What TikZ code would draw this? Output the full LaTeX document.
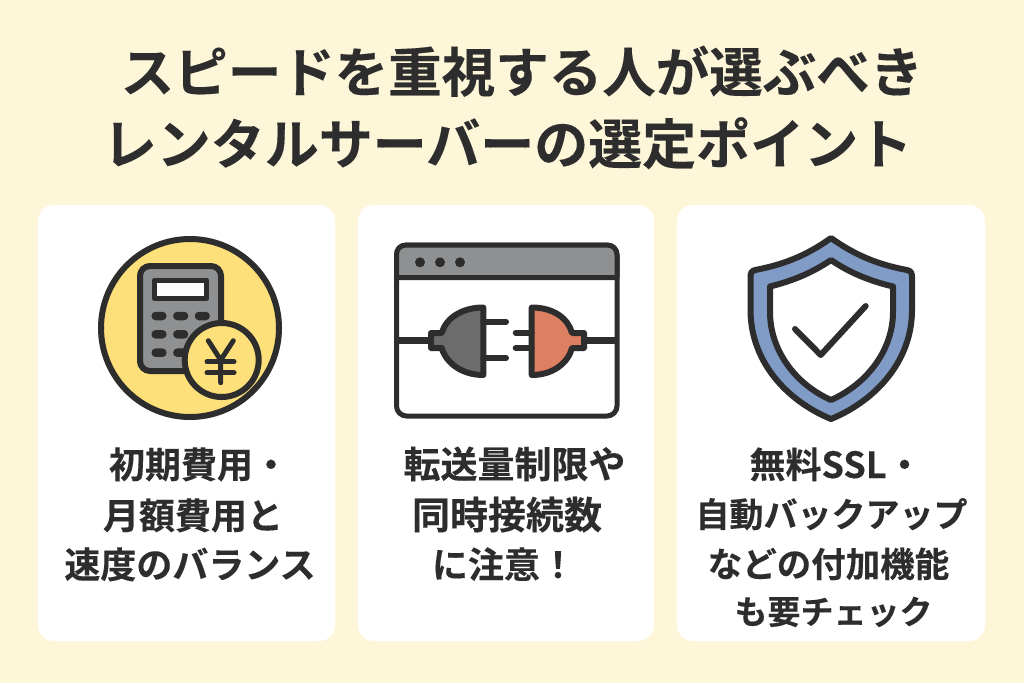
\documentclass[tikz,border=0pt]{standalone}
\usepackage{fontspec}
\setmainfont{Noto Sans CJK JP}[BoldFont={Noto Sans CJK JP Bold},BoldFeatures={FakeBold=0.25}]
\usetikzlibrary{positioning}
\definecolor{cream}{HTML}{FEF6D9}
\definecolor{ink}{HTML}{2D2D2D}
\definecolor{calcgray}{HTML}{8E9091}
\definecolor{plugdark}{HTML}{6C6C6C}
\definecolor{plugred}{HTML}{DD7F62}
\definecolor{coinyellow}{HTML}{FDE07A}
\definecolor{shieldblue}{HTML}{7F9BC6}
\tikzset{
	titletext/.style={text=ink,font=\fontsize{#1}{60}\selectfont\bfseries,inner sep=0pt,anchor=base},
	titletext/.default=53.5,
	cardbox/.style={fill=white,rounded corners=16pt,inner sep=0pt,outer sep=0pt,minimum height=436pt,anchor=north west},
	cardtext/.style={text=ink,font=\fontsize{#1}{#1}\selectfont\bfseries,inner sep=0pt,anchor=base},
	cardtext/.default=36,
	iconline/.style={draw=ink,line width=5pt,line join=round,line cap=round},
	calckey/.style={fill=ink,rounded corners=4pt,minimum width=15pt,minimum height=8.5pt,inner sep=0pt},
	windot/.style={fill=ink,circle,minimum size=10pt,inner sep=0pt}
}
\begin{document}
\begin{tikzpicture}[x=1pt,y=-1pt]
	\useasboundingbox[fill=cream] (0,0) rectangle (1024,683);
	\node[titletext] (titleone) at (522,92) {スピードを重視する人が選ぶべき};
	\node[titletext=54] (titletwo) at (507.5,164) {レンタルサーバーの選定ポイント};

	\node[cardbox,minimum width=297pt] (costcard) at (38,205) {};
	\node[cardbox,minimum width=296pt,right=23pt of costcard.north east,anchor=north west] (plugcard) {};
	\node[cardbox,minimum width=308pt,right=23pt of plugcard.north east,anchor=north west] (safecard) {};

	% calculator
	\draw[iconline,line width=6pt,fill=coinyellow] (190,328) circle (89);
	\draw[iconline,line width=6pt,fill=calcgray,rounded corners=10pt] (140,266) rectangle (221,371);
	\draw[iconline,fill=white] (154.5,280) rectangle (206.5,298.5);
	\foreach \keyy in {316,334.3,352.7}
		\foreach \keyx in {159,180.7,202.3}
			\node[calckey] at (\keyx,\keyy) {};
	\draw[iconline,line width=6pt,fill=coinyellow] (221.7,360) circle (37);
	\draw[iconline] (208.3,340.7) -- (220.7,360) -- (233.3,340.7) (220.7,360) -- (220.7,382.7);
	\draw[iconline] (207,361.7) -- (234,361.7) (207,372.7) -- (234,372.7);

	% window with plugs
	\draw[iconline,fill=white,rounded corners=10pt] (396.5,245) rectangle (617,416);
	\draw[iconline,fill=calcgray] (396.5,277.7) -- (396.5,255) .. controls (396.5,249) and (400,245) .. (406.5,245) -- (607,245) .. controls (613,245) and (617,249) .. (617,255) -- (617,277.7) -- cycle;
	\foreach \dotx in {420,440,460}
		\node[windot] at (\dotx,262.3) {};
	\draw[iconline,line width=7pt,line cap=butt] (397,340.3) -- (431,340.3) (584,340.3) -- (617,340.3);
	\draw[iconline,line width=6pt,fill=plugdark] (483.3,307.5) .. controls (462,307.5) and (446,318) .. (441.7,333) -- (431,333) -- (431,348) -- (441.7,348) .. controls (446,363) and (462,375) .. (483.3,375) -- cycle;
	\draw[iconline,line width=6pt] (483.3,321.7) -- (506,321.7) (483.3,358) -- (506,358);
	\draw[iconline,line width=6pt,fill=plugred] (531.7,307.5) .. controls (553,307.5) and (568,318) .. (572,333) -- (584,333) -- (584,348) -- (572,348) .. controls (568,363) and (553,375) .. (531.7,375) -- cycle;
	\draw[iconline,line width=6pt] (531.7,332.7) -- (515.7,332.7) (531.7,348) -- (515.7,348);

	% shield
	\draw[iconline,line width=6pt,fill=shieldblue] (831,238) .. controls (806,256) and (782,265) .. (755,270) .. controls (751.5,271) and (750.5,273) .. (750.5,277) -- (750.5,310) .. controls (750.5,360) and (785,400) .. (831,419) .. controls (877,400) and (912,360) .. (912,310) -- (912,277) .. controls (912,273) and (911,271) .. (907,270) .. controls (880,265) and (856,256) .. (831,238) -- cycle;
	\draw[iconline,line width=6pt,fill=white] (831,260) .. controls (812,273) and (792,281) .. (770,286.5) -- (770,312) .. controls (770,350) and (795,384) .. (831,400) .. controls (867,384) and (893,350) .. (893,312) -- (893,286.5) .. controls (870,281) and (850,273) .. (831,260) -- cycle;
	\draw[iconline,line width=6pt] (795,329) -- (820.7,355) -- (865.7,306);

	% card texts, one node a line
	\node[cardtext] (costone) at (199,478) {初期費用・};
	\node[cardtext] (costtwo) at (193,529) {月額費用と};
	\node[cardtext] (costthree) at (190,578) {速度のバランス};
	\node[cardtext=37] (plugone) at (514.5,478) {転送量制限や};
	\node[cardtext=38] (plugtwo) at (507,529) {同時接続数};
	\node[cardtext] (plugthree) at (504,578) {に注意！};
	\node[cardtext] (safeone) at (836,478) {無料SSL・};
	\node[cardtext=34] (safetwo) at (831.5,527) {自動バックアップ};
	\node[cardtext=34.5] (safethree) at (828.5,577) {などの付加機能};
	\node[cardtext=33] (safefour) at (833.5,624) {も要チェック};
\end{tikzpicture}
\end{document}
